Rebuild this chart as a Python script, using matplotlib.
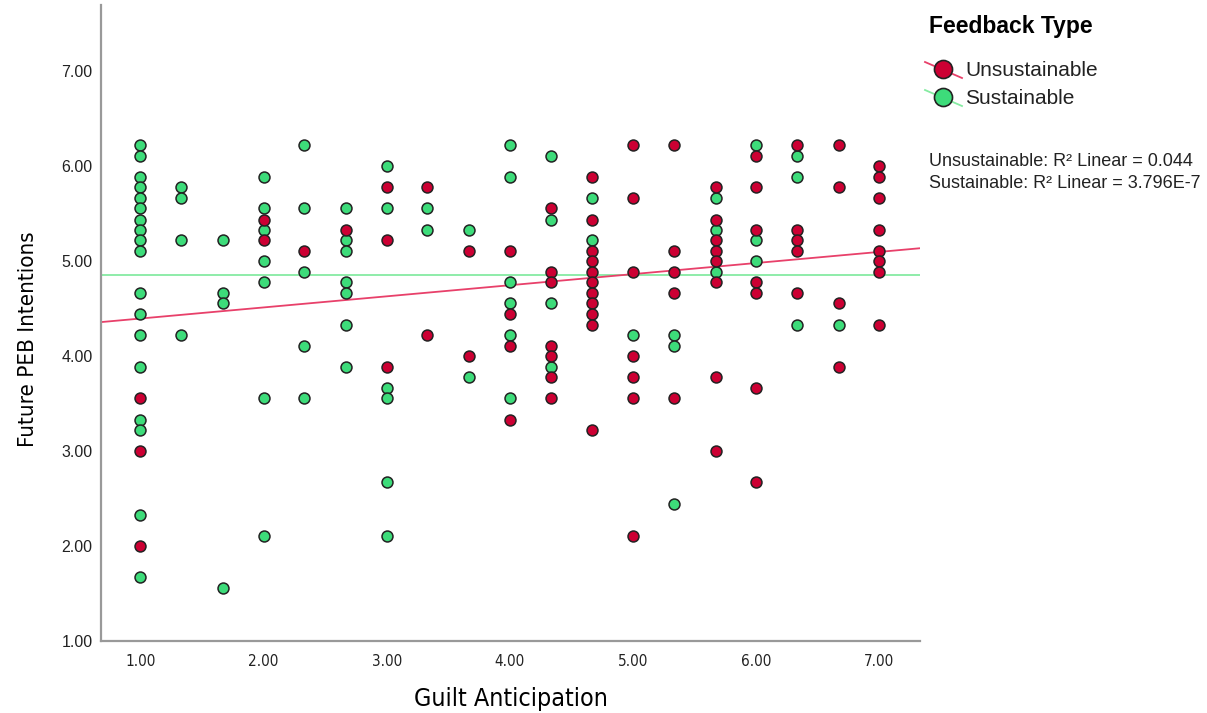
import matplotlib
matplotlib.use("Agg")
import matplotlib.pyplot as plt
from matplotlib.lines import Line2D

# Guilt Anticipation (x) / Future PEB Intentions (y)
sust_x = [1.00] * 18 + [1.33] * 4 + [1.67] * 4 + [2.00] * 7 + [2.33] * 5 + [2.67] * 7 \
    + [3.00] * 6 + [3.33] * 2 + [3.67] * 2 + [4.00] * 6 + [4.33] * 4 + [4.67] * 2 \
    + [5.00] * 1 + [5.33] * 3 + [5.67] * 3 + [6.00] * 3 + [6.33] * 3 + [6.67] * 1
sust_y = [6.22, 6.11, 5.89, 5.78, 5.67, 5.56, 5.44, 5.33, 5.22, 5.11, 4.67, 4.44, 4.22, 3.89, 3.33, 3.22, 2.33, 1.67,
          5.78, 5.67, 5.22, 4.22,
          5.22, 4.67, 4.56, 1.56,
          5.89, 5.56, 5.33, 5.00, 4.78, 3.56, 2.11,
          6.22, 5.56, 4.89, 4.11, 3.56,
          5.56, 5.22, 5.11, 4.78, 4.67, 4.33, 3.89,
          6.00, 5.56, 3.67, 3.56, 2.67, 2.11,
          5.56, 5.33,
          5.33, 3.78,
          6.22, 5.89, 4.78, 4.56, 4.22, 3.56,
          6.11, 5.44, 4.56, 3.89,
          5.67, 5.22,
          4.22,
          4.22, 4.11, 2.44,
          5.67, 5.33, 4.89,
          6.22, 5.22, 5.00,
          6.11, 5.89, 4.33,
          4.33]

unsus_x = [1.00] * 3 + [2.00] * 2 + [2.33] * 1 + [2.67] * 1 + [3.00] * 3 + [3.33] * 2 + [3.67] * 2 \
    + [4.00] * 4 + [4.33] * 7 + [4.67] * 11 + [5.00] * 7 + [5.33] * 5 + [5.67] * 8 \
    + [6.00] * 7 + [6.33] * 5 + [6.67] * 4 + [7.00] * 8
unsus_y = [3.56, 3.00, 2.00,
           5.44, 5.22,
           5.11,
           5.33,
           5.78, 5.22, 3.89,
           5.78, 4.22,
           5.11, 4.00,
           5.11, 4.44, 4.11, 3.33,
           5.56, 4.89, 4.78, 4.11, 4.00, 3.78, 3.56,
           5.89, 5.44, 5.11, 5.00, 4.89, 4.78, 4.67, 4.56, 4.44, 4.33, 3.22,
           6.22, 5.67, 4.89, 4.00, 3.78, 3.56, 2.11,
           6.22, 5.11, 4.89, 4.67, 3.56,
           5.78, 5.44, 5.22, 5.11, 5.00, 4.78, 3.78, 3.00,
           6.11, 5.78, 5.33, 4.78, 4.67, 3.67, 2.67,
           6.22, 5.33, 5.22, 5.11, 4.67,
           6.22, 5.78, 4.56, 3.89,
           6.00, 5.89, 5.67, 5.33, 5.11, 5.00, 4.89, 4.33]

# fit lines as drawn in the chart (intercept, slope); overlapping points hide some cases
unsus_fit = (4.28, 0.117)
sust_fit = (4.86, 0.0)

tick_vals = [1, 2, 3, 4, 5, 6, 7]
r2_text = ["Unsustainable: R\u00b2 Linear = 0.044", "Sustainable: R\u00b2 Linear = 3.796E-7"]

red = '#CC0033'
green = '#3DDC7A'
red_line = '#E8406A'
green_line = '#86EBA2'
narrow = dict(fontfamily='DejaVu Sans', fontstretch='condensed')

W, H = 1207, 713
fig = plt.figure(figsize=(W / 100, H / 100), dpi=100)
ax = fig.add_axes([101 / W, 1 - 641 / H, (920 - 101) / W, (641 - 5) / H])

for (b, m), c in [(sust_fit, green_line), (unsus_fit, red_line)]:
    ax.axline((0, b), slope=m, color=c, lw=1.3, zorder=1)

ax.scatter(sust_x, sust_y, s=62, color=green, edgecolor='#222222', linewidth=1.1, zorder=3)
ax.scatter(unsus_x, unsus_y, s=62, color=red, edgecolor='#222222', linewidth=1.1, zorder=3)

ax.set_xlim(0.68, 7.33)
ax.set_ylim(1.0, 7.7)
ax.set_xticks(tick_vals)
ax.set_yticks(tick_vals)
ax.set_xticklabels([f'{v:.2f}' for v in tick_vals], fontsize=11, **narrow)
ax.set_yticklabels([f'{v:.2f}' for v in tick_vals], fontfamily=['Liberation Sans', 'DejaVu Sans'], fontsize=11.5)
ax.tick_params(length=0, colors='#222222')
ax.tick_params(axis='x', pad=9)
ax.tick_params(axis='y', pad=6)
for s in ['top', 'right']:
    ax.spines[s].set_visible(False)
for s in ['left', 'bottom']:
    ax.spines[s].set_color('#999999')
    ax.spines[s].set_linewidth(1.6)

ax.set_xlabel('Guilt Anticipation', fontsize=18, labelpad=13, **narrow)
ax.set_ylabel('Future PEB Intentions', fontsize=16, **narrow)
ax.yaxis.set_label_coords(-0.077, 0.475)

# legend drawn on the figure
def fx(px):
    return px / W

def fy(py):
    return 1 - py / H

fig.text(fx(929), fy(26), 'Feedback Type', fontsize=16.5, fontweight='bold', va='center', ha='left',
         fontfamily=['Liberation Sans', 'DejaVu Sans'])
for i, (lab, mc, lc) in enumerate([('Unsustainable', red, red_line), ('Sustainable', green, green_line)]):
    cy = 70 + i * 28
    fig.add_artist(Line2D([fx(925), fx(962)], [fy(cy - 8), fy(cy + 8)], color=lc, lw=1.3, transform=fig.transFigure))
    fig.add_artist(Line2D([fx(943)], [fy(cy - 1)], marker='o', markersize=13, color=mc, markeredgecolor='#222222',
                          markeredgewidth=1.2, transform=fig.transFigure))
    fig.text(fx(965), fy(cy + 1), lab, fontsize=15, va='center', ha='left', color='#222222',
             fontfamily=['Liberation Sans', 'DejaVu Sans'])
for i, t in enumerate(r2_text):
    fig.text(fx(929), fy(162 + i * 21), t, fontsize=13, va='center', ha='left', color='#222222',
             fontfamily=['Liberation Sans', 'DejaVu Sans'])

fig.savefig('out.png', dpi=100)
